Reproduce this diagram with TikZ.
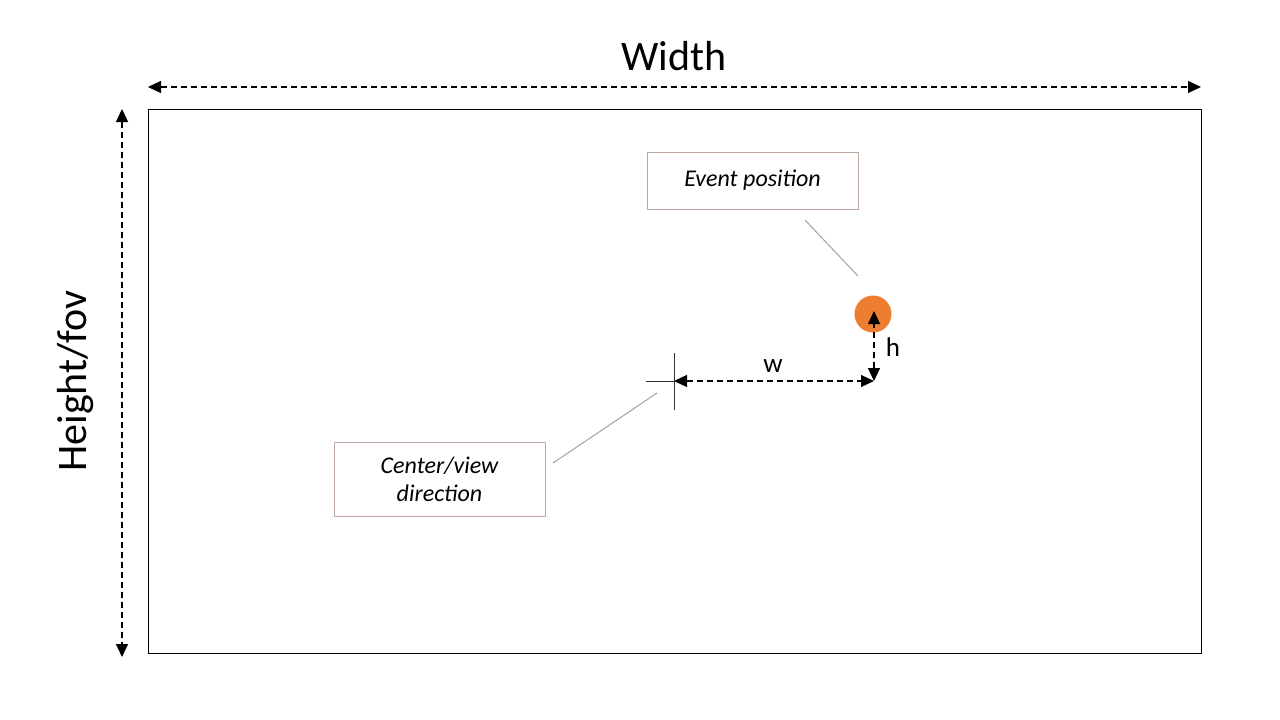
\documentclass[tikz,border=0pt]{standalone}
\usepackage{fontspec}
\setmainfont{Carlito}
\usetikzlibrary{arrows.meta}
\definecolor{boxborder}{RGB}{190,170,160}
\definecolor{leader}{RGB}{170,160,150}
\definecolor{evorange}{RGB}{237,125,49}
\tikzset{
  dimline/.style={line width=1.2pt, dash pattern=on 6pt off 4pt, {Triangle[length=13pt,width=12pt]}-{Triangle[length=13pt,width=12pt]}},
  labelbox/.style={draw=boxborder, line width=1pt, minimum width=211pt, align=center, font=\fontsize{24}{28}\selectfont\itshape},
  leaderline/.style={draw=leader, line width=1pt},
}
\begin{document}
\begin{tikzpicture}[x=1pt,y=-1pt]
\useasboundingbox (0,0) rectangle (1280,720);
\node[draw=black, line width=1pt, minimum width=1053pt, minimum height=544pt, inner sep=0pt] (frame) at (674.5,381) {};
% width dimension
\coordinate (wl) at (148,87);
\coordinate (wr) at (1201,87);
\draw[dimline] (wl) -- (wr);
\node[font=\fontsize{42}{48}\selectfont] (wlab) at (674,56) {Width};
% height dimension
\coordinate (ht) at (122,109);
\coordinate (hb) at (122,657);
\draw[dimline] (ht) -- (hb);
\node[font=\fontsize{42}{48}\selectfont, rotate=90] (hlab) at (76,381) {Height/fov};
% label boxes
\node[labelbox, minimum height=57pt] (ev) at (752.5,180.5) {Event position};
\node[labelbox, minimum height=74pt, text width=190pt] (cv) at (439.5,479) {Center/view\\direction};
% event dot
\node[circle, fill=evorange, minimum size=37pt, inner sep=0pt] (dot) at (873,314) {};
% cross
\coordinate (cxl) at (646,381);
\coordinate (cc) at (674,381);
\coordinate (cxt) at (674,353);
\coordinate (cxb) at (674,410);
\draw[line width=0.8pt, black!80] (cxl) -- (cc);
\draw[line width=0.8pt, black!80] (cxt) -- (cxb);
% w and h
\coordinate (corner) at (874,381);
\coordinate (hend) at (874,311);
\draw[dimline] (cc) -- (corner);
\draw[dimline] (corner) -- (hend);
\node[font=\fontsize{27}{30}\selectfont] (wtext) at (773,366) {w};
\node[font=\fontsize{27}{30}\selectfont] (htext) at (893,347) {h};
% leader lines
\coordinate (l1a) at (805,220);
\coordinate (l1b) at (858,276);
\draw[leaderline] (l1a) -- (l1b);
\coordinate (l2a) at (553,463);
\coordinate (l2b) at (657,393);
\draw[leaderline] (l2a) -- (l2b);
\end{tikzpicture}
\end{document}
